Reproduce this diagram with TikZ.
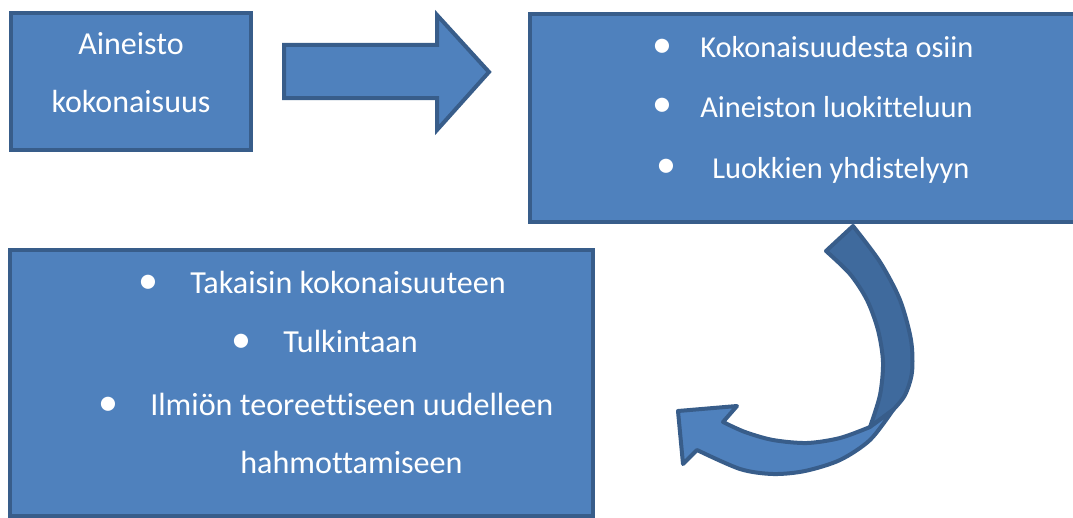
\documentclass[tikz,border=0pt]{standalone}
\usepackage{fontspec}
\setmainfont{Carlito}[Ligatures=NoCommon]
\definecolor{boxfill}{HTML}{4F81BD}
\definecolor{boxline}{HTML}{385D8A}
\definecolor{bandback}{HTML}{3F6A9D}
\tikzset{
  blk/.style={fill=boxfill,draw=boxline,line width=3.4pt,line join=miter},
  txt/.style={text=white,inner sep=0pt,font=\fontsize{#1}{28}\selectfont},
  txt/.default=23,
  bul/.style={text=white,inner sep=0pt,font=\fontsize{30}{30}\selectfont},
}
\begin{document}
\begin{tikzpicture}[x=0.75pt,y=-0.75pt]
  \useasboundingbox (0,0) rectangle (1073,517);
  \clip (0,0) rectangle (1073,517);
  \node[blk,minimum width=180pt,minimum height=102.75pt] (src) at (131,81.5) {};
  \node[blk,minimum width=420pt,minimum height=156pt] (ana) at (810,118) {};
  \node[blk,minimum width=437.25pt,minimum height=199.5pt] (syn) at (301.5,383) {};
  \node[txt=24,anchor=base] (src1) at (131,55) {Aineisto};
  \node[txt=24,anchor=base] (src2) at (131,113) {kokonaisuus};
  \foreach \n/\bx/\tx/\y/\t in {
    1/662/700/58/Kokonaisuudesta osiin,
    2/662/700/117/Aineiston luokitteluun,
    3/666/712/178/Luokkien yhdistelyyn
  }{
    \node[txt=22.8,anchor=base west] (ana\n) at (\tx,\y) {\t};
    \node[bul] (anab\n) at (\bx,\y-10) {\textbullet};
  }
  \foreach \n/\bx/\tx/\y/\t in {
    1/148/190/293/Takaisin kokonaisuuteen,
    2/241/283/352/Tulkintaan,
    3/108/150/415/Ilmiön teoreettiseen uudelleen
  }{
    \node[txt=24.1,anchor=base west] (syn\n) at (\tx,\y) {\t};
    \node[bul] (synb\n) at (\bx,\y-9) {\textbullet};
  }
  \node[txt=24.1,anchor=base west] (syn4) at (240,473) {hahmottamiseen};
  \filldraw[blk,line width=3pt] (284,45) -- (437,45) -- (437,15) -- (489,72)
    -- (437,130) -- (437,98) -- (284,98) -- cycle;
  \filldraw[blk,fill=bandback,line width=3pt,line join=round]
    plot[smooth] coordinates {(853,226) (880,262) (900,300) (911,340)
      (912,372) (905,395) (893,410)}
    -- (870,427)
    -- plot[smooth] coordinates {(870,427) (880,395) (883,362) (878,330)
      (867,300) (850,274) (826,251)}
    -- cycle;
  \filldraw[blk,line width=3pt,line join=round]
    plot[smooth] coordinates {(893,410) (870,440) (840,460) (805,471)
      (773,474) (740,469) (697,450)}
    -- (683,464) -- (678,411) -- (737,406) -- (723,422)
    -- plot[smooth] coordinates {(723,422) (745,432) (773,440) (807,443)
      (840,438) (870,427)}
    -- cycle;
\end{tikzpicture}
\end{document}
